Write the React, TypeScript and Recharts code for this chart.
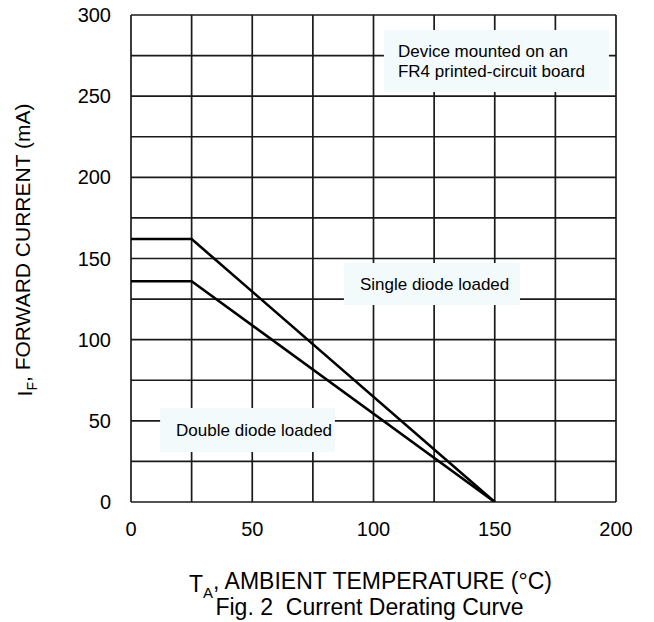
import { LineChart, Line, XAxis, YAxis, CartesianGrid, ReferenceArea, Label } from 'recharts';

// ambient temperature (°C) breakpoints and forward current (mA)
const singleTemp = [0, 25, 150];
const singleCurrent = [162, 162, 0];
const doubleTemp = [0, 25, 150];
const doubleCurrent = [136, 136, 0];

const xTicks = [0, 25, 50, 75, 100, 125, 150, 175, 200];
const yTicks = [0, 25, 50, 75, 100, 125, 150, 175, 200, 225, 250, 275, 300];

// note boxes: [x1, x2, y1, y2] in chart units
const boardNote = ['Device mounted on an', 'FR4 printed-circuit board'];
const boardBox = [104.3, 197.1, 252.6, 290.8];
const singleNote = ['Single diode loaded'];
const singleBox = [87.8, 160.4, 121.4, 147.3];
const doubleNote = ['Double diode loaded'];
const doubleBox = [12, 84.1, 30.8, 57.9];

const FONT = '"Liberation Sans", Arial, Helvetica, sans-serif';
const INK = '#000';

const singleData = singleTemp.map((t, i) => ({ t, i: singleCurrent[i] }));
const doubleData = doubleTemp.map((t, i) => ({ t, i: doubleCurrent[i] }));

function BoxLabel(props: any) {
  const { viewBox, lines, pad = 15 } = props;
  if (!viewBox) return null;
  const { x, y, height } = viewBox;
  const lh = 20;
  const top = y + height / 2 - ((lines.length - 1) * lh) / 2;
  return (
    <text x={x + pad} fontFamily={FONT} fontSize={17} fill={INK}>
      {lines.map((l: string, k: number) => (
        <tspan key={k} x={x + pad} y={top + k * lh} dy="0.35em">
          {l}
        </tspan>
      ))}
    </text>
  );
}

function XTitle(props: any) {
  const { viewBox } = props;
  if (!viewBox) return null;
  const cx = viewBox.x + viewBox.width / 2;
  const y0 = viewBox.y;
  return (
    <g fontFamily={FONT} fill={INK}>
      <text x={cx - 3} y={y0 + 82} dy="0.35em" textAnchor="middle" fontSize={23}>
        T<tspan fontSize={15} dy="0.4em">A</tspan>
        <tspan dy="-0.4em">, AMBIENT TEMPERATURE (°C)</tspan>
      </text>
      <text x={cx - 4} y={y0 + 105} dy="0.35em" textAnchor="middle" fontSize={23}>
        Fig. 2{'\u00a0\u00a0'}Current Derating Curve
      </text>
    </g>
  );
}

function YTitle() {
  const cx = 25;
  const cy = 250;
  return (
    <text
      x={cx}
      y={cy}
      dy="0.35em"
      textAnchor="middle"
      fontFamily={FONT}
      fontSize={21}
      fill={INK}
      transform={`rotate(-90 ${cx} ${cy})`}
    >
      I<tspan fontSize={14} dy="0.35em">F</tspan>
      <tspan dy="-0.35em">, FORWARD CURRENT (mA)</tspan>
    </text>
  );
}

export default function App() {
  return (
    <div style={{ position: 'absolute', left: 0, top: 0, width: 654, height: 622, background: '#fff' }}>
      <LineChart width={654} height={622} margin={{ top: 15, right: 38, bottom: 90, left: 0 }}>
        <CartesianGrid stroke="#1a1a1a" strokeWidth={1.7} />
        <XAxis
          dataKey="t"
          type="number"
          domain={[0, 200]}
          ticks={xTicks}
          interval={0}
          height={30}
          axisLine={false}
          tickLine={false}
          tickSize={0}
          tickMargin={20}
          tickFormatter={(v) => (v % 50 === 0 ? String(v) : '')}
          tick={{ fill: INK, fontSize: 20, fontFamily: FONT }}
          allowDataOverflow
        >
          <Label content={<XTitle />} />
        </XAxis>
        <YAxis
          type="number"
          domain={[0, 300]}
          ticks={yTicks}
          interval={0}
          width={131}
          axisLine={false}
          tickLine={false}
          tickSize={0}
          tickMargin={20}
          tickFormatter={(v) => (v % 50 === 0 ? String(v) : '')}
          tick={{ fill: INK, fontSize: 20, fontFamily: FONT }}
          allowDataOverflow
        >
          <Label content={<YTitle />} />
        </YAxis>
        <ReferenceArea
          x1={boardBox[0]}
          x2={boardBox[1]}
          y1={boardBox[2]}
          y2={boardBox[3]}
          fill="#f3fafc"
          fillOpacity={1}
          stroke="none"
          label={<BoxLabel lines={boardNote} pad={14} />}
        />
        <ReferenceArea
          x1={singleBox[0]}
          x2={singleBox[1]}
          y1={singleBox[2]}
          y2={singleBox[3]}
          fill="#f3fafc"
          fillOpacity={1}
          stroke="none"
          label={<BoxLabel lines={singleNote} pad={16} />}
        />
        <ReferenceArea
          x1={doubleBox[0]}
          x2={doubleBox[1]}
          y1={doubleBox[2]}
          y2={doubleBox[3]}
          fill="#f3fafc"
          fillOpacity={1}
          stroke="none"
          label={<BoxLabel lines={doubleNote} pad={16} />}
        />
        <Line
          data={singleData}
          dataKey="i"
          type="linear"
          stroke={INK}
          strokeWidth={2.6}
          dot={false}
          activeDot={false}
          isAnimationActive={false}
        />
        <Line
          data={doubleData}
          dataKey="i"
          type="linear"
          stroke={INK}
          strokeWidth={2.6}
          dot={false}
          activeDot={false}
          isAnimationActive={false}
        />
      </LineChart>
    </div>
  );
}
